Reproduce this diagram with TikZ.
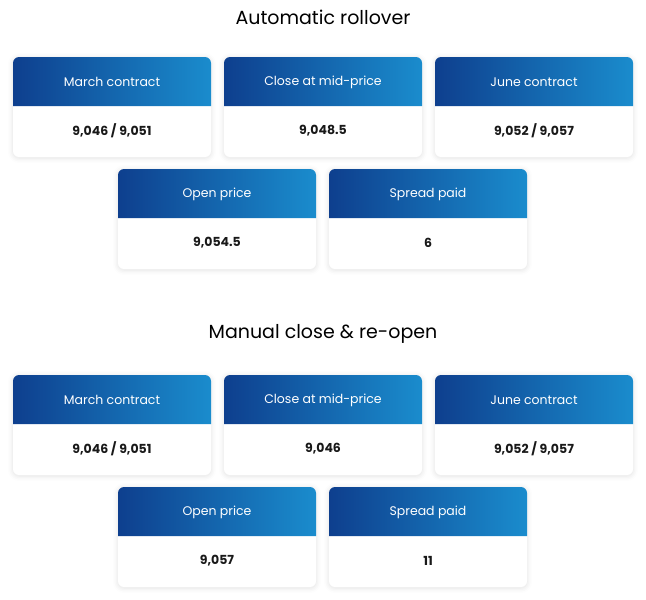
\documentclass[tikz,border=0pt]{standalone}
\usepackage{fontspec}
\setmainfont{Poppins}
\usetikzlibrary{shadows.blur}
\definecolor{hdL}{HTML}{0E3F8E}
\definecolor{hdR}{HTML}{1A8CCD}
\tikzset{
  ttl/.style={font=\fontsize{19}{22}\selectfont, text=black},
  hdtxt/.style={font=\fontsize{12.5}{15}\selectfont, text=white},
  valtxt/.style={font=\fontsize{12.5}{15}\selectfont\bfseries, text=black!90},
}
\newcommand\mycard[5]{% name, x, y(top), title, value
  \fill[white, rounded corners=6pt, blur shadow={shadow xshift=0pt, shadow yshift=-1pt, shadow blur radius=5pt, shadow opacity=12}]
    (#2,#3) rectangle ++(198,-100);
  \shade[left color=hdL, right color=hdR]
    (#2,#3-49) [rounded corners=6pt] -- (#2,#3) -- (#2+198,#3) [sharp corners] -- (#2+198,#3-49) -- cycle;
  \node[hdtxt] (#1h) at (#2+99,#3-25) {#4};
  \node[valtxt] (#1v) at (#2+99,#3-74) {#5};
}
\begin{document}
\begin{tikzpicture}[x=1pt,y=1pt]
\useasboundingbox (0,0) rectangle (646,-600);
\node[ttl] (t1) at (323,-17) {Automatic rollover};
\mycard{a}{13}{-57}{March contract}{9,046 / 9,051}
\mycard{b}{224}{-57}{Close at mid-price}{9,048.5}
\mycard{c}{435}{-57}{June contract}{9,052 / 9,057}
\mycard{d}{118}{-169}{Open price}{9,054.5}
\mycard{e}{329}{-169}{Spread paid}{6}
\node[ttl] (t2) at (323,-334) {Manual close \& re-open};
\mycard{f}{13}{-375}{March contract}{9,046 / 9,051}
\mycard{g}{224}{-375}{Close at mid-price}{9,046}
\mycard{h}{435}{-375}{June contract}{9,052 / 9,057}
\mycard{i}{118}{-487}{Open price}{9,057}
\mycard{j}{329}{-487}{Spread paid}{11}
\end{tikzpicture}
\end{document}
